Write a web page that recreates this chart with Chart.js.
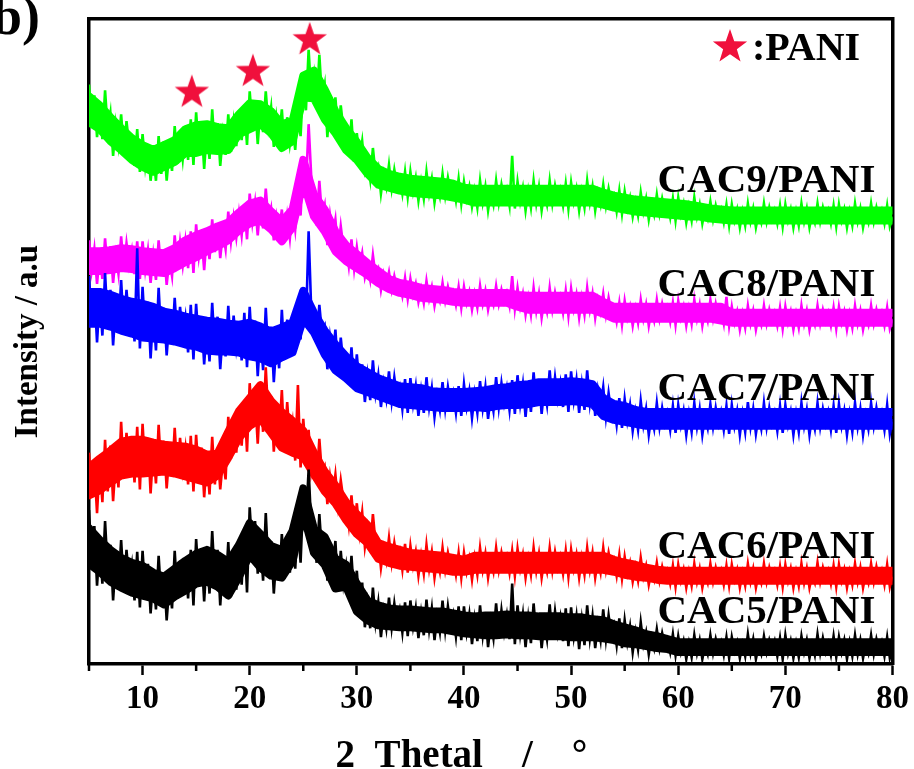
<!DOCTYPE html>
<html>
<head>
<meta charset="utf-8">
<script src="https://cdn.jsdelivr.net/npm/chart.js@4"></script>
<style>
  html, body { margin: 0; padding: 0; background: #fff; }
  #wrap { width: 914px; height: 769px; position: relative; }
</style>
</head>
<body>
<div id="wrap"><canvas id="xrd"></canvas></div>
<script>
// 2θ sampling grid: 5..80 deg every 0.25 deg (301 points) for the raw scans
const twoTheta = Array.from({ length: 301 }, (_, i) => 5 + i * 0.25);
// 1 deg grid for the dense middle of each noisy band
const coreTheta = Array.from({ length: 76 }, (_, i) => 5 + i);

// intensities (a.u., offset stacked), 4 readings per degree
const cac5 = [
  153, 101, 137, 77,  118, 79, 142, 90,  118, 62, 104, 76,  123, 74, 113, 80,  98, 62, 111, 55,
  112, 69, 99, 49,  86, 53, 107, 62,  90, 42, 78, 54,  112, 64, 102, 70,  100, 64, 113, 57,
  124, 81, 110, 61,  108, 69, 132, 80,  113, 57, 99, 71,  121, 66, 110, 73,  116, 78, 130, 70,
  156, 110, 142, 89,  123, 82, 150, 93,  122, 69, 109, 82,  129, 84, 120, 90,  130, 94, 143, 100,
  168, 140, 194, 135,  130, 100, 149, 108,  130, 82, 118, 94,  122, 72, 112, 79,  97, 70, 107, 65,
  92, 53, 80, 35,  59, 34, 75, 40,  60, 25, 51, 34,  65, 35, 59, 39,  52, 30, 60, 26,
  62, 36, 54, 24,  49, 27, 63, 33,  54, 22, 46, 30,  62, 32, 56, 36,  48, 26, 56, 22,
  56, 30, 48, 18,  43, 21, 57, 27,  50, 15, 41, 24,  59, 26, 52, 30,  47, 23, 79, 18,
  57, 28, 48, 15,  44, 19, 59, 26,  49, 14, 40, 23,  58, 25, 51, 29,  45, 21, 54, 16,
  55, 26, 46, 13,  42, 17, 57, 24,  46, 14, 38, 22,  53, 23, 47, 27,  37, 17, 44, 14,
  42, 20, 36, 10,  30, 13, 40, 18,  30, 8, 25, 14,  33, 14, 29, 16,  23, 10, 28, 7,
  26, 10, 21, 3,  19, 5, 27, 9,  22, 3, 17, 8,  27, 9, 23, 11,  20, 7, 25, 4,
  25, 11, 20, 4,  18, 6, 28, 9,  23, 3, 16, 8,  26, 10, 22, 12,  21, 6, 24, 3,
  27, 9, 21, 4,  19, 5, 26, 10,  22, 4, 18, 7,  28, 9, 24, 10,  19, 7, 26, 5,
  25, 10, 22, 3,  20, 6, 27, 8,  22, 4, 18, 9,  27, 8, 23, 11,  20, 6, 25, 4,
  14
];
const cac6 = [
  211, 169, 198, 150,  200, 161, 224, 172,  218, 162, 204, 176,  242, 187, 231, 194,  222, 181, 237, 174,
  240, 192, 226, 170,  216, 180, 239, 190,  223, 175, 211, 187,  236, 188, 226, 194,  215, 179, 228, 172,
  229, 186, 216, 166,  205, 169, 227, 179,  214, 174, 204, 184,  247, 205, 239, 211,  251, 218, 263, 212,
  281, 239, 268, 220,  273, 232, 297, 243,  268, 212, 254, 226,  274, 214, 262, 222,  241, 203, 279, 196,
  245, 209, 234, 192,  208, 180, 225, 188,  196, 159, 187, 168,  189, 159, 183, 163,  160, 138, 168, 134,
  160, 130, 151, 116,  135, 113, 149, 119,  122, 95, 115, 102,  125, 100, 120, 103,  112, 93, 119, 90,
  117, 97, 111, 87,  107, 89, 118, 94,  111, 85, 104, 91,  115, 93, 110, 96,  104, 88, 110, 85,
  110, 91, 104, 83,  105, 88, 115, 93,  109, 85, 103, 91,  115, 93, 110, 96,  106, 90, 112, 87,
  114, 94, 108, 85,  104, 88, 115, 92,  109, 85, 103, 91,  115, 92, 111, 95,  106, 89, 112, 86,
  113, 94, 108, 85,  105, 88, 115, 93,  110, 85, 103, 90,  115, 93, 110, 96,  103, 87, 108, 84,
  106, 89, 100, 81,  96, 82, 105, 86,  97, 78, 92, 83,  100, 82, 96, 84,  92, 79, 97, 76,
  98, 82, 93, 75,  91, 77, 99, 81,  94, 75, 89, 80,  99, 81, 95, 83,  92, 78, 97, 77,
  98, 83, 93, 75,  90, 77, 99, 81,  94, 75, 89, 80,  99, 81, 95, 84,  92, 78, 96, 76,
  98, 82, 94, 75,  91, 77, 99, 80,  94, 75, 88, 80,  100, 81, 95, 83,  92, 79, 97, 76,
  98, 82, 93, 75,  91, 78, 99, 81,  95, 75, 89, 80,  99, 81, 96, 83,  92, 78, 98, 76,
  88
];
const cac7 = [
  389, 343, 375, 322,  368, 329, 392, 340,  375, 319, 361, 333,  385, 333, 375, 340,  361, 323, 417, 316,
  378, 329, 363, 306,  353, 314, 377, 325,  357, 309, 345, 321,  367, 322, 358, 328,  347, 312, 360, 305,
  361, 319, 348, 300,  339, 303, 362, 313,  348, 295, 335, 308,  359, 311, 349, 317,  339, 304, 352, 297,
  358, 310, 344, 288,  333, 294, 357, 305,  338, 282, 324, 296,  355, 305, 345, 312,  340, 314, 356, 325,
  372, 338, 434, 352,  349, 324, 360, 331,  338, 295, 327, 306,  335, 293, 327, 299,  307, 280, 317, 275,
  310, 277, 300, 262,  289, 264, 304, 271,  289, 257, 281, 265,  293, 263, 287, 267,  277, 255, 285, 251,
  286, 260, 278, 248,  273, 251, 287, 257,  276, 247, 269, 254,  282, 255, 277, 259,  271, 251, 278, 248,
  280, 257, 273, 246,  270, 251, 283, 256,  277, 245, 269, 253,  287, 257, 281, 261,  276, 254, 284, 250,
  289, 260, 280, 247,  277, 252, 292, 259,  285, 250, 276, 259,  294, 261, 287, 265,  281, 257, 290, 252,
  293, 264, 284, 251,  279, 254, 294, 261,  283, 248, 274, 257,  277, 247, 271, 251,  259, 239, 266, 236,
  265, 243, 259, 233,  252, 234, 263, 239,  255, 229, 248, 235,  261, 237, 256, 240,  251, 234, 258, 231,
  259, 239, 253, 229,  250, 232, 261, 237,  255, 229, 248, 236,  260, 237, 256, 240,  252, 234, 258, 230,
  259, 238, 253, 229,  250, 232, 262, 237,  255, 230, 248, 235,  261, 237, 256, 240,  251, 233, 258, 231,
  259, 239, 252, 229,  250, 232, 261, 238,  254, 229, 248, 235,  261, 237, 255, 240,  252, 234, 258, 231,
  260, 238, 253, 229,  250, 232, 261, 237,  255, 229, 249, 235,  261, 238, 256, 240,  251, 234, 259, 230,
  245
];
const cac8 = [
  425, 395, 416, 381,  411, 386, 427, 393,  419, 382, 410, 391,  429, 396, 422, 400,  415, 391, 424, 386,
  424, 395, 415, 382,  410, 385, 425, 392,  415, 380, 406, 389,  430, 396, 423, 400,  424, 397, 434, 392,
  441, 409, 431, 395,  431, 406, 446, 413,  442, 407, 433, 416,  454, 424, 448, 428,  452, 430, 460, 426,
  472, 443, 463, 430,  462, 437, 477, 444,  457, 425, 449, 433,  456, 423, 449, 427,  458, 436, 470, 450,
  505, 478, 542, 488,  468, 440, 485, 448,  460, 420, 450, 430,  446, 413, 439, 417,  419, 399, 426, 396,
  418, 398, 412, 388,  400, 385, 410, 389,  396, 375, 391, 380,  393, 375, 389, 377,  382, 369, 387, 366,
  386, 370, 381, 363,  376, 362, 384, 366,  378, 359, 373, 364,  382, 364, 378, 366,  373, 360, 378, 357,
  378, 362, 373, 355,  371, 357, 379, 361,  374, 355, 369, 360,  379, 361, 375, 363,  372, 359, 389, 356,
  377, 358, 371, 350,  367, 350, 377, 354,  371, 347, 365, 353,  377, 355, 372, 358,  368, 352, 374, 349,
  376, 356, 370, 347,  367, 350, 377, 355,  371, 347, 365, 353,  371, 350, 367, 353,  357, 343, 362, 340,
  364, 347, 358, 339,  356, 342, 365, 346,  360, 339, 355, 344,  365, 346, 361, 348,  357, 343, 362, 340,
  364, 347, 358, 339,  356, 341, 365, 346,  360, 339, 355, 344,  365, 346, 361, 348,  355, 341, 368, 339,
  358, 342, 353, 335,  351, 337, 359, 341,  354, 335, 349, 340,  359, 341, 355, 343,  352, 339, 357, 336,
  358, 342, 353, 335,  351, 337, 359, 341,  354, 335, 349, 340,  359, 341, 355, 343,  352, 339, 357, 336,
  358, 342, 353, 335,  351, 337, 359, 341,  354, 335, 349, 340,  359, 341, 355, 343,  352, 339, 357, 336,
  345
];
const cac9 = [
  582, 546, 571, 529,  557, 527, 576, 535,  553, 510, 542, 521,  552, 514, 545, 520,  527, 500, 537, 494,
  532, 500, 522, 485,  512, 485, 530, 492,  525, 485, 515, 495,  540, 502, 532, 507,  536, 506, 547, 501,
  554, 515, 542, 497,  537, 507, 557, 515,  543, 500, 532, 511,  552, 514, 544, 520,  551, 526, 560, 521,
  575, 539, 564, 522,  559, 534, 575, 540,  559, 519, 549, 529,  557, 516, 549, 522,  541, 516, 556, 530,
  585, 556, 617, 570,  591, 558, 612, 567,  582, 529, 569, 542,  569, 531, 561, 536,  537, 510, 547, 504,
  533, 507, 525, 495,  505, 486, 518, 491,  499, 472, 492, 479,  501, 477, 496, 480,  488, 472, 494, 469,
  494, 474, 488, 465,  484, 467, 494, 472,  487, 463, 481, 469,  492, 470, 488, 473,  481, 465, 487, 462,
  484, 467, 479, 459,  475, 458, 485, 463,  479, 455, 473, 461,  485, 463, 481, 466,  476, 460, 510, 457,
  484, 464, 478, 455,  475, 458, 485, 462,  479, 455, 473, 461,  485, 462, 480, 466,  476, 460, 482, 457,
  483, 464, 477, 455,  474, 458, 485, 463,  479, 455, 473, 461,  481, 460, 477, 463,  470, 454, 475, 452,
  474, 457, 468, 449,  464, 450, 473, 454,  467, 446, 462, 451,  471, 452, 467, 454,  462, 448, 467, 445,
  468, 451, 462, 443,  459, 445, 468, 449,  461, 442, 456, 447,  464, 446, 460, 448,  456, 443, 461, 440,
  461, 445, 456, 438,  454, 440, 462, 444,  457, 438, 452, 443,  462, 444, 458, 446,  455, 442, 460, 439,
  461, 445, 456, 438,  454, 440, 462, 444,  457, 438, 452, 443,  462, 444, 458, 446,  455, 442, 460, 439,
  461, 445, 456, 438,  454, 440, 462, 444,  457, 438, 452, 443,  462, 444, 458, 446,  455, 442, 460, 439,
  448
];

// upper / lower edge of the solid middle of each band, 1 deg steps
const cac5Hi = [135, 123, 113, 105, 100, 97, 90, 86, 94, 102, 109, 113, 108, 101, 118, 140, 129, 117, 113, 132,
  175, 134, 126, 104, 98, 79, 62, 57, 54, 53, 53, 52, 51, 51, 49, 47, 46, 47, 47, 48,
  47, 47, 46, 46, 46, 45, 45, 43, 42, 38, 35, 32, 28, 26, 23, 20, 20, 20, 20, 20,
  20, 20, 20, 20, 20, 20, 20, 20, 20, 20, 20, 20, 20, 20, 20, 20];
const cac5Lo = [99, 91, 81, 75, 70, 67, 64, 58, 66, 72, 79, 81, 76, 67, 86, 108, 95, 87, 85, 102,
  150, 110, 98, 74, 76, 51, 42, 37, 36, 35, 35, 34, 33, 33, 31, 29, 28, 27, 27, 28,
  27, 27, 26, 26, 26, 25, 25, 25, 24, 22, 19, 18, 16, 14, 13, 10, 10, 10, 10, 10,
  10, 10, 10, 10, 10, 10, 10, 10, 10, 10, 10, 10, 10, 10, 10, 10];
const cac6Hi = [196, 205, 213, 222, 224, 224, 221, 219, 218, 217, 214, 209, 210, 232, 253, 266, 279, 263, 252, 243,
  233, 211, 192, 178, 161, 149, 138, 120, 116, 113, 110, 109, 108, 107, 105, 103, 107, 107, 107, 107,
  107, 107, 107, 107, 107, 107, 107, 107, 107, 103, 100, 98, 95, 93, 92, 92, 92, 92, 92, 92,
  92, 92, 92, 92, 92, 92, 92, 92, 92, 92, 92, 92, 92, 92, 92, 92];
const cac6Lo = [168, 173, 181, 188, 190, 190, 191, 192, 190, 187, 184, 181, 188, 206, 226, 238, 245, 231, 216, 211,
  207, 189, 172, 160, 143, 129, 120, 104, 100, 97, 96, 95, 94, 93, 91, 91, 93, 93, 93, 93,
  93, 93, 93, 93, 93, 93, 93, 93, 93, 91, 88, 86, 85, 83, 82, 82, 82, 82, 82, 82,
  82, 82, 82, 82, 82, 82, 82, 82, 82, 82, 82, 82, 82, 82, 82, 82];
const cac7Hi = [373, 373, 370, 366, 363, 361, 358, 353, 351, 348, 346, 344, 343, 341, 340, 342, 338, 333, 337, 342,
  374, 352, 334, 320, 308, 298, 292, 286, 282, 278, 277, 276, 273, 272, 272, 272, 273, 274, 276, 277,
  279, 280, 282, 282, 282, 283, 282, 280, 266, 260, 258, 254, 252, 252, 252, 252, 252, 252, 252, 252,
  252, 252, 252, 252, 252, 252, 252, 252, 252, 252, 252, 252, 252, 252, 252, 252];
const cac7Lo = [341, 341, 338, 334, 331, 327, 326, 325, 323, 320, 318, 314, 313, 313, 312, 308, 306, 301, 307, 312,
  346, 332, 310, 294, 286, 276, 272, 268, 264, 260, 259, 258, 257, 256, 256, 256, 257, 256, 258, 259,
  259, 260, 262, 262, 262, 263, 262, 260, 248, 244, 242, 240, 238, 238, 238, 238, 238, 238, 238, 238,
  238, 238, 238, 238, 238, 238, 238, 238, 238, 238, 238, 238, 238, 238, 238, 238];
const cac8Hi = [414, 414, 415, 417, 416, 414, 413, 412, 417, 425, 430, 434, 439, 443, 453, 462, 465, 454, 444, 456,
  506, 471, 456, 434, 420, 411, 402, 394, 386, 382, 380, 377, 376, 375, 373, 372, 372, 372, 372, 372,
  370, 369, 369, 369, 369, 369, 369, 369, 363, 358, 358, 358, 358, 358, 358, 358, 358, 358, 358, 358,
  352, 352, 352, 352, 352, 352, 352, 352, 352, 352, 352, 352, 352, 352, 352, 352];
const cac8Lo = [394, 394, 395, 397, 396, 394, 393, 392, 397, 403, 408, 414, 419, 425, 435, 442, 445, 436, 424, 438,
  484, 449, 434, 414, 404, 397, 390, 382, 376, 372, 370, 367, 366, 365, 363, 362, 362, 362, 362, 362,
  358, 355, 355, 355, 355, 355, 355, 355, 351, 346, 346, 346, 346, 346, 346, 346, 346, 346, 346, 344,
  342, 342, 342, 342, 342, 342, 342, 342, 342, 342, 342, 342, 342, 342, 342, 342];
const cac9Hi = [570, 561, 549, 538, 528, 521, 516, 521, 526, 537, 541, 542, 539, 538, 552, 563, 562, 555, 542, 545,
  591, 596, 577, 555, 538, 524, 508, 497, 492, 489, 487, 486, 485, 484, 482, 478, 477, 477, 477, 477,
  477, 477, 477, 477, 477, 477, 477, 477, 473, 470, 468, 466, 465, 464, 463, 462, 461, 459, 457, 456,
  455, 455, 455, 455, 455, 455, 455, 455, 455, 455, 455, 455, 455, 455, 455, 455];
const cac9Lo = [544, 537, 525, 516, 506, 499, 494, 499, 504, 513, 513, 516, 515, 516, 532, 537, 542, 533, 518, 525,
  569, 568, 547, 533, 516, 506, 492, 481, 478, 475, 473, 472, 471, 470, 468, 466, 463, 463, 463, 463,
  463, 463, 463, 463, 463, 463, 463, 463, 461, 458, 456, 454, 453, 452, 451, 450, 449, 449, 447, 446,
  445, 445, 445, 445, 445, 445, 445, 445, 445, 445, 445, 445, 445, 445, 445, 445];

const seriesNames = ['CAC5/PANI', 'CAC6/PANI', 'CAC7/PANI', 'CAC8/PANI', 'CAC9/PANI'];
const seriesColors = ['#000000', '#ff0000', '#0000ff', '#ff00ff', '#00ff00'];
const seriesData = [cac5, cac6, cac7, cac8, cac9];
const seriesHi = [cac5Hi, cac6Hi, cac7Hi, cac8Hi, cac9Hi];
const seriesLo = [cac5Lo, cac6Lo, cac7Lo, cac8Lo, cac9Lo];

// PANI reflections marked with stars
const starTheta = [14.6, 20.3, 25.6];
const starLevel = [575, 596, 628];

const majorTicks = [10, 20, 30, 40, 50, 60, 70, 80];
const minorTicks = [5, 15, 25, 35, 45, 55, 65, 75];

const serif = 'Liberation Serif, Times New Roman, serif';

// filled five point star used as a point style
function makeStar(size, color) {
    const c = document.createElement('canvas');
    c.width = size; c.height = size;
    const g = c.getContext('2d');
    const r = size / 2, ri = r * 0.4;
    g.beginPath();
    for (let i = 0; i < 10; i++) {
        const a = -Math.PI / 2 + i * Math.PI / 5;
        const rr = i % 2 === 0 ? r : ri;
        g.lineTo(r + rr * Math.cos(a), r + 1 + rr * Math.sin(a));
    }
    g.closePath();
    g.fillStyle = color;
    g.fill();
    return c;
}
const starImg = makeStar(36, '#f0103c');

const toPoints = (xs, ys) => ys.map((v, i) => ({ x: xs[i], y: v }));

const datasets = [];
seriesData.forEach((vals, k) => {
    // solid middle of the band: upper edge filled down to lower edge
    const edge = {
        borderColor: seriesColors[k],
        borderWidth: 8,
        borderJoinStyle: 'round',
        borderCapStyle: 'round',
        pointRadius: 0
    };
    datasets.push(Object.assign({
        label: seriesNames[k] + ' band',
        data: toPoints(coreTheta, seriesHi[k]),
        backgroundColor: seriesColors[k],
        fill: '+1'
    }, edge));
    datasets.push(Object.assign({
        label: seriesNames[k] + ' band low',
        data: toPoints(coreTheta, seriesLo[k]),
        fill: false
    }, edge));
    // the raw scan on top gives the spiky edges
    datasets.push({
        label: seriesNames[k],
        data: toPoints(twoTheta, vals),
        borderColor: seriesColors[k],
        borderWidth: 2.6,
        pointRadius: 0,
        tension: 0,
        fill: false
    });
});
datasets.push({
    label: 'PANI',
    data: toPoints(starTheta, starLevel),
    showLine: false,
    pointStyle: starImg,
    pointRadius: 18,
    clip: false
});

// labels, legend, minor ticks and panel letter
const annotations = {
    id: 'annotations',
    afterDraw(chart) {
        const { ctx, chartArea, scales: { x, y } } = chart;
        ctx.save();
        ctx.strokeStyle = '#000';
        ctx.lineWidth = 2.5;
        minorTicks.forEach(v => {
            const px = x.getPixelForValue(v);
            ctx.beginPath();
            ctx.moveTo(px, chartArea.bottom);
            ctx.lineTo(px, chartArea.bottom + 7);
            ctx.stroke();
        });

        ctx.fillStyle = '#000';
        ctx.font = 'bold 41px ' + serif;
        ctx.textAlign = 'right';
        ctx.textBaseline = 'alphabetic';
        const labelLevels = [39, 105, 264, 369, 474];
        seriesNames.forEach((n, k) => {
            ctx.fillText(n, x.getPixelForValue(78.4), y.getPixelForValue(labelLevels[k]));
        });

        // legend entry
        ctx.drawImage(starImg, 712, 28);
        ctx.textAlign = 'left';
        ctx.font = 'bold 40px ' + serif;
        ctx.fillText(':PANI', 752, 60);

        // panel letter, cut at the page edge
        ctx.textAlign = 'right';
        ctx.font = 'bold 54px ' + serif;
        ctx.fillText('b)', 40, 34);
        ctx.restore();
    }
};

new Chart(document.getElementById('xrd'), {
    type: 'line',
    data: { datasets: datasets },
    options: {
        responsive: true,
        maintainAspectRatio: false,
        devicePixelRatio: 1,
        animation: false,
        events: [],
        layout: { padding: 0 },
        plugins: { legend: { display: false }, tooltip: { enabled: false } },
        scales: {
            x: {
                type: 'linear',
                position: 'bottom',
                min: 5,
                max: 80,
                afterBuildTicks: s => { s.ticks = majorTicks.map(v => ({ value: v })); },
                afterFit: s => { s.height = 105; },
                border: { color: '#000', width: 3.5 },
                grid: { drawOnChartArea: false, drawTicks: true, tickLength: 11, tickWidth: 2.5, tickColor: '#000' },
                ticks: {
                    autoSkip: false,
                    maxRotation: 0,
                    padding: 5,
                    color: '#000',
                    font: { family: serif, weight: 'bold', size: 33 }
                },
                title: {
                    display: true,
                    text: '2\u00a0\u00a0Thetal\u00a0\u00a0\u00a0\u00a0/\u00a0\u00a0\u00a0\u00a0°\u00a0\u00a0\u00a0\u00a0\u00a0\u00a0',
                    color: '#000',
                    font: { family: serif, weight: 'bold', size: 39, lineHeight: 0.6 },
                    padding: { top: 0, bottom: 0 }
                }
            },
            xTop: {
                type: 'linear',
                position: 'top',
                min: 5,
                max: 80,
                afterFit: s => { s.height = 12; },
                border: { color: '#000', width: 3.5 },
                grid: { display: false },
                ticks: { display: false }
            },
            y: {
                type: 'linear',
                position: 'left',
                min: -2,
                max: 648,
                afterFit: s => { s.width = 89; },
                border: { color: '#000', width: 3.5 },
                grid: { display: false },
                ticks: { display: false },
                title: {
                    display: true,
                    text: 'Intensity / a.u',
                    color: '#000',
                    font: { family: serif, weight: 'bold', size: 33 },
                    padding: { top: 9, bottom: 0 }
                }
            },
            yRight: {
                type: 'linear',
                position: 'right',
                min: -2,
                max: 648,
                afterFit: s => { s.width = 20; },
                border: { color: '#000', width: 3.5 },
                grid: { display: false },
                ticks: { display: false }
            }
        }
    },
    plugins: [annotations]
});
</script>
</body>
</html>
